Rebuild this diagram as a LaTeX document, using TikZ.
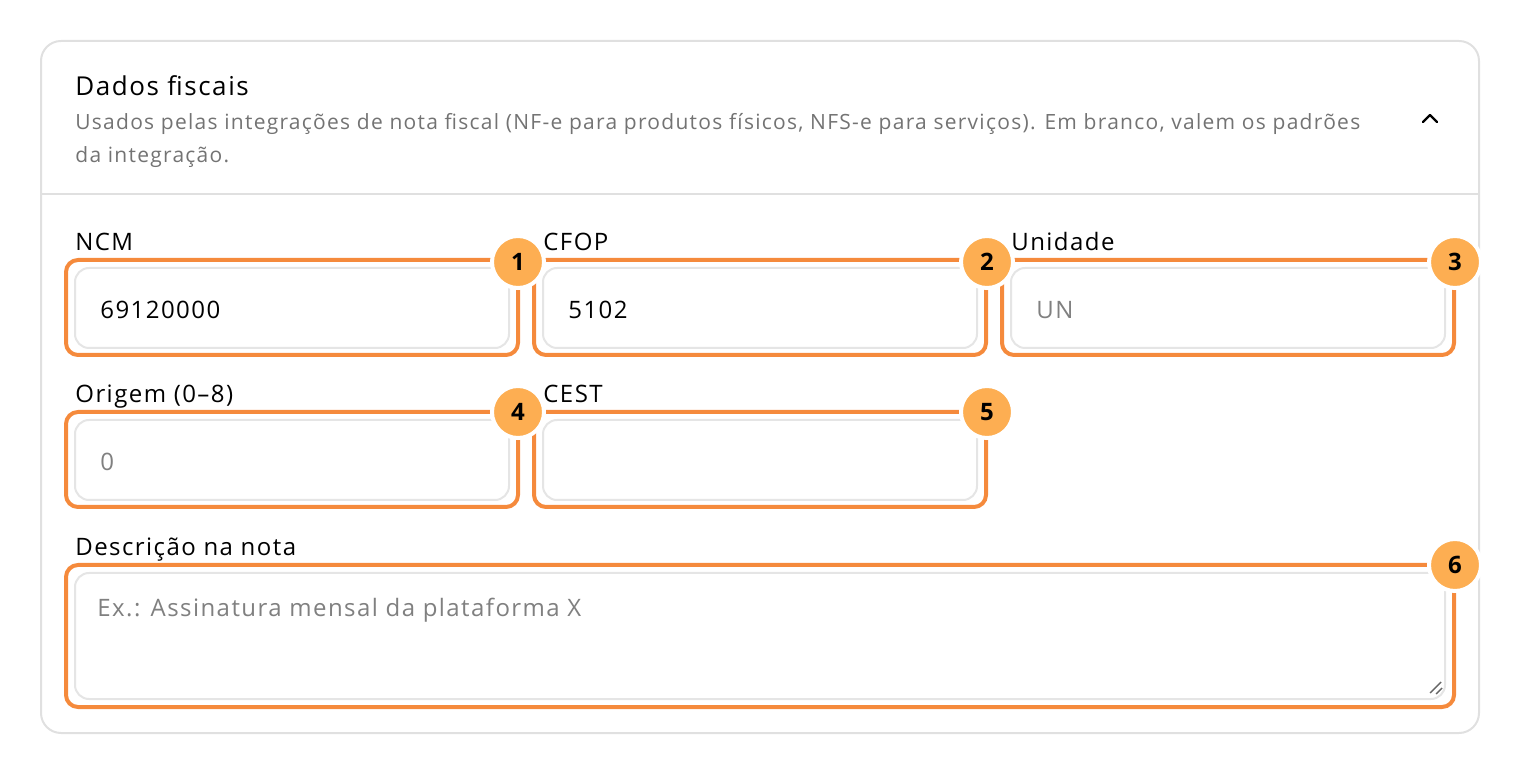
\documentclass[tikz,border=0pt]{standalone}
\usepackage{fontspec}
\setmainfont[LetterSpace=6]{Open Sans}
\begin{document}
\begin{tikzpicture}[x=0.5pt,y=-0.5pt,
  card/.style={draw=black!12,line width=1pt,rounded corners=10pt},
  inp/.style={draw=black!10,line width=1pt,rounded corners=7pt,fill=white},
  hl/.style={line width=2pt,rounded corners=6pt},
  badge/.style={circle,draw=white,line width=2pt,minimum size=26pt,inner sep=0pt,font=\bfseries\fontsize{12}{12}\selectfont},
  lab/.style={anchor=base west,inner sep=0pt,font=\fontsize{12}{14}\selectfont},
  val/.style={anchor=west,inner sep=0pt,font=\fontsize{12}{14}\selectfont},
  ph/.style={val,text=black!50},
  desc/.style={anchor=base west,inner sep=0pt,text=black!55,font=\fontsize{10.5}{12}\selectfont}]
\definecolor{hlc}{HTML}{F58A3C}
\definecolor{bdg}{HTML}{FDAE52}
\tikzset{hl/.append style={draw=hlc},badge/.append style={fill=bdg}}
\useasboundingbox (0,0) rectangle (1520,774);
\draw[card] (41,41) rectangle (1479,733);
\draw[black!12,line width=1pt] (41,194) -- (1479,194);
\node[lab,font=\fontsize{13}{15}\selectfont] (t) at (75,96) {Dados fiscais};
\node[desc] (d1) at (75,130) {Usados pelas integrações de nota fiscal (NF-e para produtos físicos, NFS-e para serviços). Em branco, valem os padrões};
\node[desc] (d2) at (75,163) {da integração.};
\draw[line width=1.2pt,line cap=round,line join=round] (1423,122) -- (1430,115) -- (1437,122);
% row 1
\node[lab] (l1) at (75,251) {NCM};
\node[lab] (l2) at (543,251) {CFOP};
\node[lab] (l3) at (1011,251) {Unidade};
\draw[inp] (75,268) rectangle (509,348);
\draw[inp] (543,268) rectangle (977,348);
\draw[inp] (1011,268) rectangle (1445,348);
\draw[hl] (66,260) rectangle (518,355);
\draw[hl] (534,260) rectangle (986,355);
\draw[hl] (1002,260) rectangle (1454,355);
\node[val] (v1) at (100,310) {69120000};
\node[val] (v2) at (568,310) {5102};
\node[ph] (v3) at (1036,310) {UN};
\node[badge] (b1) at (518,262) {1};
\node[badge] (b2) at (987,262) {2};
\node[badge] (b3) at (1455,262) {3};
% row 2
\node[lab] (l4) at (75,403) {Origem (0–8)};
\node[lab] (l5) at (543,403) {CEST};
\draw[inp] (75,420) rectangle (509,500);
\draw[inp] (543,420) rectangle (977,500);
\draw[hl] (66,412) rectangle (518,507);
\draw[hl] (534,412) rectangle (986,507);
\node[ph] (v4) at (100,462) {0};
\node[badge] (b4) at (518,412) {4};
\node[badge] (b5) at (987,412) {5};
% row 3
\node[lab] (l6) at (75,556) {Descrição na nota};
\draw[inp] (75,573) rectangle (1445,699);
\draw[hl] (66,565) rectangle (1454,707);
\node[ph] (v6) at (97,610) {Ex.: Assinatura mensal da plataforma X};
\draw[black!60,line width=0.7pt] (1430,693) -- (1441,682) (1436,694) -- (1442,688);
\node[badge] (b6) at (1455,565) {6};
\end{tikzpicture}
\end{document}
